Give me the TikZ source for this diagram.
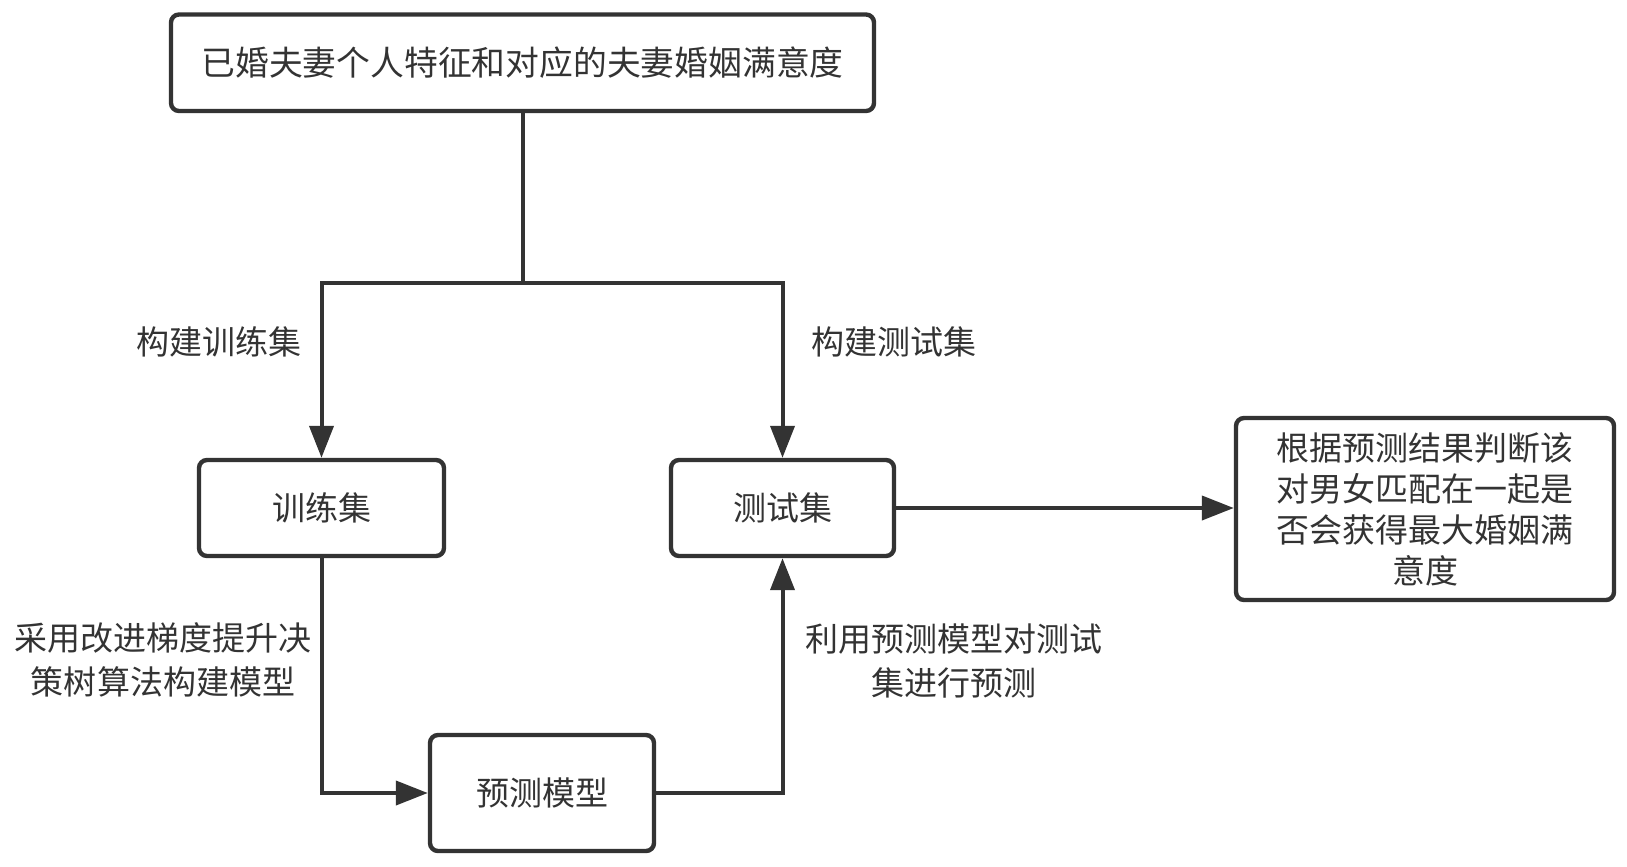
\documentclass[tikz,border=0pt]{standalone}
\usepackage{fontspec}
\newfontfamily\cjk{Noto Sans CJK SC}
\usetikzlibrary{arrows.meta}
\definecolor{ink}{HTML}{333333}
\tikzset{
  box/.style={draw=ink, line width=2.2pt, rounded corners=4pt, fill=white, align=center, inner sep=0pt, text=ink,
    font=\cjk\fontsize{16.5}{20.5}\selectfont},
  lbl/.style={align=center, inner sep=0pt, text=ink, font=\cjk\fontsize{16.5}{21.8}\selectfont},
  conn/.style={draw=ink, line width=2pt},
  arr/.style={conn, -{Triangle[length=16pt,width=12pt]}}
}
\begin{document}
\begin{tikzpicture}[x=0.5pt,y=-0.5pt]
\useasboundingbox (0,0) rectangle (1627,867);
\node[box, minimum width=351.5pt, minimum height=48.25pt, font=\cjk\fontsize{16.9}{21}\selectfont] (top) at (522.5,62.75) {已婚夫妻个人特征和对应的夫妻婚姻满意度};
\node[box, minimum width=122.5pt, minimum height=48pt] (train) at (321.5,508) {训练集};
\node[box, minimum width=111.5pt, minimum height=48pt] (test) at (782.5,508) {测试集};
\node[box, minimum width=112pt, minimum height=58pt] (pred) at (542,793) {预测模型};
\node[box, minimum width=189pt, minimum height=91pt] (res) at (1425,509) {根据预测结果判断该\\对男女匹配在一起是\\否会获得最大婚姻满\\意度};
\coordinate (split) at (522.5,283);
\draw[conn] (top.south) -- (split);
\draw[arr] (split) -| (train.north);
\draw[arr] (split) -| (test.north);
\draw[arr] (train.south) |- (pred.west);
\draw[arr] (pred.east) -| (test.south);
\draw[arr] (test.east) -- (test.east -| res.west);
\node[lbl] (l1) at (219,342) {构建训练集};
\node[lbl] (l2) at (894,342) {构建测试集};
\node[lbl] (l3) at (163,660) {采用改进梯度提升决\\策树算法构建模型};
\node[lbl] (l4) at (954,661) {利用预测模型对测试\\集进行预测};
\end{tikzpicture}
\end{document}
